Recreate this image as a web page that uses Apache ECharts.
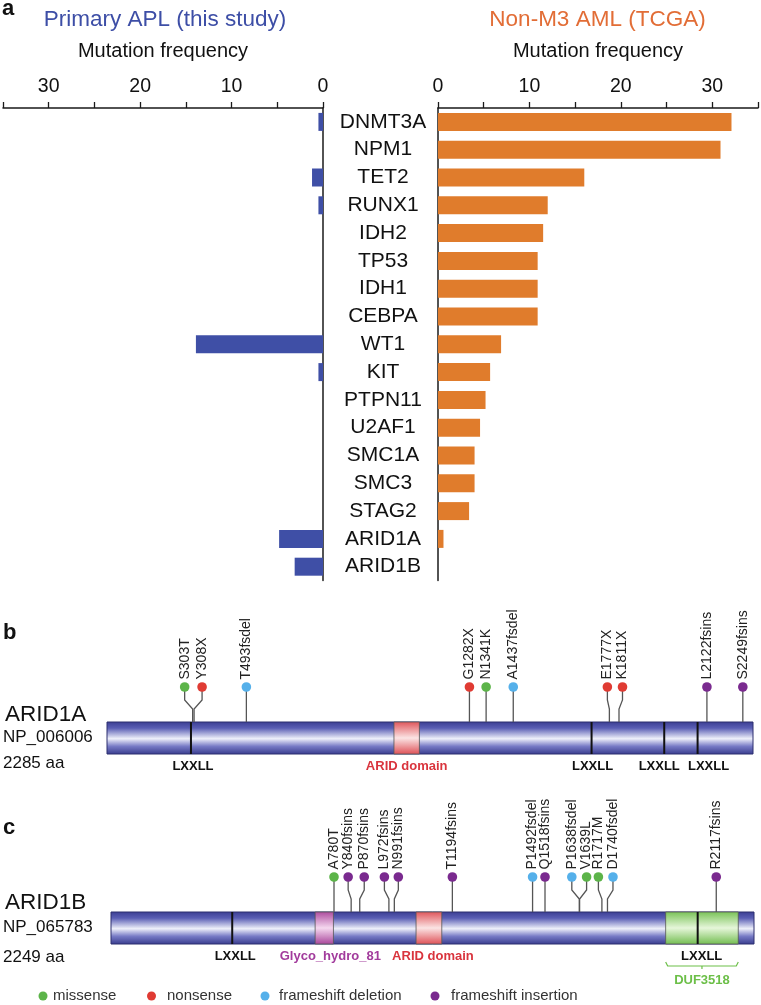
<!DOCTYPE html>
<html><head><meta charset="utf-8">
<script src="https://cdn.jsdelivr.net/npm/echarts@6/dist/echarts.min.js"></script>
<style>html,body{margin:0;padding:0;background:#fff}#c{width:761px;height:1005px}</style>
</head><body><div id="c"></div>
<script>
// ---------- Panel a data ----------
const genes = ['DNMT3A','NPM1','TET2','RUNX1','IDH2','TP53','IDH1','CEBPA','WT1','KIT','PTPN11','U2AF1','SMC1A','SMC3','STAG2','ARID1A','ARID1B'];
const aplFreq  = [0.5, 0, 1.2, 0.5, 0, 0, 0, 0, 13.9, 0.5, 0, 0, 0, 0, 0, 4.8, 3.1];
const tcgaFreq = [32.1, 30.9, 16.0, 12.0, 11.5, 10.9, 10.9, 10.9, 6.9, 5.7, 5.2, 4.6, 4.0, 4.0, 3.4, 0.6, 0];
const freqTicks = [0, 10, 20, 30];

// ---------- Panel b data (ARID1A) ----------
const arid1aLength = 2285;
const arid1aMotifs = [297, 1714, 1971, 2089];
const arid1aDomainName = ['ARID domain'];
const arid1aDomainStart = [1015];
const arid1aDomainEnd = [1105];
const arid1aMutPos = [303, 308, 493, 1282, 1341, 1437, 1777, 1811, 2122, 2249];
const arid1aMutLabel = ['S303T','Y308X','T493fsdel','G1282X','N1341K','A1437fsdel','E1777X','K1811X','L2122fsins','S2249fsins'];
const arid1aMutType = ['missense','nonsense','frameshift deletion','nonsense','missense','frameshift deletion','nonsense','nonsense','frameshift insertion','frameshift insertion'];

// ---------- Panel c data (ARID1B) ----------
const arid1bLength = 2249;
const arid1bMotifs = [424, 2052];
const arid1bDomainName = ['Glyco_hydro_81', 'ARID domain', 'DUF3518'];
const arid1bDomainStart = [714, 1067, 1940];
const arid1bDomainEnd = [778, 1157, 2194];
const arid1bMutPos = [780, 840, 870, 972, 991, 1194, 1492, 1518, 1638, 1639, 1717, 1740, 2117];
const arid1bMutLabel = ['A780T','Y840fsins','P870fsins','L972fsins','N991fsins','T1194fsins','P1492fsdel','Q1518fsins','P1638fsdel','V1639L','R1717M','D1740fsdel','R2117fsins'];
const arid1bMutType = ['missense','frameshift insertion','frameshift insertion','frameshift insertion','frameshift insertion','frameshift insertion','frameshift deletion','frameshift insertion','frameshift deletion','missense','missense','frameshift deletion','frameshift insertion'];

const mutationTypes = ['missense','nonsense','frameshift deletion','frameshift insertion'];

// ---------- layout / style (kept separate from data, in pixels) ----------
const arid1aDotShift = [-8, 8, 0, 0, 0, 0, -2, 3.5, 0, 0];
const arid1aStemShift = [0, 0, 0, 0, 0, 0, 0, 0, 0, 0];
const arid1aMotifLabelShift = [2, 1, -5, 11];
const arid1aDomainLabelShift = [0];
const arid1bDotShift = [0, -3, 4.5, -4.5, 4, 0, 0, 0, -7.5, 7, -3.5, 5.5, 0];
const arid1bStemShift = [0, 0, 0, 0, 0, 0, -5, 0, 0, 0, 0, -1, 0];
const arid1bMotifLabelShift = [3, 4];
const arid1bDomainLabelShift = [6, 4, 0];

const FONT = '"Liberation Sans", Arial, Helvetica, sans-serif';
const typeColor = {
  'missense': '#5cb449',
  'nonsense': '#e03b33',
  'frameshift deletion': '#55b0ea',
  'frameshift insertion': '#7a2a8f'
};
const domainStyle = {
  'ARID domain': {stops: ['#df545a', '#fbe4e4', '#de4f55'], text: '#d9343d'},
  'Glyco_hydro_81': {stops: ['#ad4a9e', '#f5d8ef', '#a8449a'], text: '#a23b9c'},
  'DUF3518': {stops: ['#78c256', '#e6f6da', '#72bd50'], text: '#6cbf48'}
};
function vgrad(c) {
  return {type: 'linear', x: 0, y: 0, x2: 0, y2: 1, colorStops: [
    {offset: 0, color: c[0]}, {offset: 0.5, color: c[1]}, {offset: 1, color: c[2]}]};
}
const backboneFill = {type: 'linear', x: 0, y: 0, x2: 0, y2: 1, colorStops: [
  {offset: 0, color: '#3a3d92'}, {offset: 0.2, color: '#5a5eb4'}, {offset: 0.52, color: '#eef0fa'},
  {offset: 0.75, color: '#777bc6'}, {offset: 1, color: '#373a8c'}]};

function proteinSeries(axisIdx, length, motifs, motifShift, dName, dStart, dEnd, dShift, mPos, mLabel, mType, shift, stemShift) {
  return [
    { type: 'custom', xAxisIndex: axisIdx, yAxisIndex: axisIdx, z: 2, silent: true,
      data: [[0, 0, length]],
      renderItem: (params, api) => {
        const a = api.coord([api.value(0), 1]);
        const b = api.coord([api.value(2), 0]);
        return {type: 'rect', shape: {x: a[0], y: a[1], width: b[0] - a[0], height: b[1] - a[1]},
          style: {fill: backboneFill, stroke: '#2c2e6e', lineWidth: 1}};
      }},
    { type: 'custom', xAxisIndex: axisIdx, yAxisIndex: axisIdx, z: 3, silent: true,
      data: dStart.map((s, i) => [s, 0, dEnd[i], i]),
      renderItem: (params, api) => {
        const i = api.value(3);
        const name = dName[i];
        const st = domainStyle[name];
        const a = api.coord([api.value(0), 1]);
        const b = api.coord([api.value(2), 0]);
        const mid = (a[0] + b[0]) / 2;
        const children = [{type: 'rect', shape: {x: a[0], y: a[1], width: b[0] - a[0], height: b[1] - a[1]},
          style: {fill: vgrad(st.stops), stroke: '#555', lineWidth: 0.8}}];
        if (name === 'DUF3518') {
          const yb = b[1] + 22;
          children.push({type: 'polyline', shape: {points: [[a[0], yb - 4], [a[0] + 2, yb], [b[0] - 2, yb], [b[0], yb - 4]]},
            style: {stroke: st.text, lineWidth: 1.2, fill: null}});
          children.push({type: 'line', shape: {x1: mid, y1: yb, x2: mid, y2: yb + 3}, style: {stroke: st.text, lineWidth: 1.2}});
          children.push({type: 'text', x: mid + dShift[i], y: b[1] + 36, style: {text: name, fill: st.text,
            font: 'bold 13px ' + FONT, align: 'center', verticalAlign: 'middle'}});
        } else {
          children.push({type: 'text', x: mid + dShift[i], y: b[1] + 12, style: {text: name, fill: st.text,
            font: 'bold 13px ' + FONT, align: 'center', verticalAlign: 'middle'}});
        }
        return {type: 'group', children};
      }},
    { type: 'custom', xAxisIndex: axisIdx, yAxisIndex: axisIdx, z: 4, silent: true,
      data: motifs.map((p, i) => [p, 0, i]),
      renderItem: (params, api) => {
        const i = api.value(2);
        const a = api.coord([api.value(0), 1]);
        const b = api.coord([api.value(0), 0]);
        return {type: 'group', children: [
          {type: 'line', shape: {x1: a[0], y1: a[1], x2: b[0], y2: b[1]}, style: {stroke: '#111', lineWidth: 2}},
          {type: 'text', x: b[0] + motifShift[i], y: b[1] + 12, style: {text: 'LXXLL', fill: '#111',
            font: 'bold 13px ' + FONT, align: 'center', verticalAlign: 'middle'}}]};
      }},
    { type: 'custom', xAxisIndex: axisIdx, yAxisIndex: axisIdx, z: 5, silent: true,
      data: mPos.map((p, i) => [p, 0, i]),
      renderItem: (params, api) => {
        const i = api.value(2);
        const top = api.coord([api.value(0), 1]);
        const bx = top[0] + stemShift[i], by = top[1];
        const dx = shift[i];
        const dy = by - 35;
        const pts = dx === 0 ? [[bx, by], [bx, dy]] :
          [[bx, by], [bx, by - 13], [bx + dx, by - 22], [bx + dx, dy]];
        return {type: 'group', children: [
          {type: 'polyline', shape: {points: pts}, style: {stroke: '#555', lineWidth: 1.3, fill: null}},
          {type: 'circle', shape: {cx: bx + dx, cy: dy, r: 4.8}, style: {fill: typeColor[mType[i]]}},
          {type: 'text', x: bx + dx, y: dy - 7.5, rotation: Math.PI / 2,
            style: {text: mLabel[i], fill: '#222', font: '14px ' + FONT, align: 'left', verticalAlign: 'middle'}}]};
      }}
  ];
}

const chart = echarts.init(document.getElementById('c'), null, {renderer: 'canvas'});

const freqAxisCommon = {
  type: 'value', min: 0, max: 35, interval: 5, position: 'top',
  axisLine: {show: true, lineStyle: {color: '#1a1a1a', width: 1.5}},
  axisTick: {show: true, length: 6, lineStyle: {color: '#1a1a1a', width: 1.3}},
  axisLabel: {formatter: v => (freqTicks.indexOf(v) >= 0 ? String(v) : ''), fontSize: 19.5, color: '#111', margin: 11, fontFamily: FONT},
  splitLine: {show: false},
  name: 'Mutation frequency', nameLocation: 'middle', nameGap: 47,
  nameTextStyle: {fontSize: 20, color: '#111', fontFamily: FONT}
};

const legendGraphics = [];
const legendDotX = [43, 151.5, 265, 435];
const legendTextX = [53, 167, 279, 451];
mutationTypes.forEach((t, i) => {
  legendGraphics.push({type: 'circle', shape: {cx: legendDotX[i], cy: 996, r: 4.5}, style: {fill: typeColor[t]}});
  legendGraphics.push({type: 'text', x: legendTextX[i], y: 996, style: {text: t, fill: '#333', font: '15px ' + FONT, verticalAlign: 'middle'}});
});

function txt(x, y, s, size, color, bold, align) {
  return {type: 'text', x, y, style: {text: s, fill: color || '#111', font: (bold ? 'bold ' : '') + size + 'px ' + FONT,
    align: align || 'left', verticalAlign: 'middle'}};
}

chart.setOption({
  animation: false,
  backgroundColor: '#fff',
  grid: [
    {left: 3, top: 108, width: 320, height: 472.6, outerBoundsMode: 'none'},
    {left: 438, top: 108, width: 320, height: 472.6, outerBoundsMode: 'none'},
    {left: 107, top: 722, width: 646, height: 32, outerBoundsMode: 'none'},
    {left: 111, top: 912, width: 643, height: 32, outerBoundsMode: 'none'}
  ],
  xAxis: [
    Object.assign({}, freqAxisCommon, {gridIndex: 0, inverse: true}),
    Object.assign({}, freqAxisCommon, {gridIndex: 1}),
    {gridIndex: 2, type: 'value', min: 0, max: arid1aLength, show: false},
    {gridIndex: 3, type: 'value', min: 0, max: arid1bLength, show: false}
  ],
  yAxis: [
    {gridIndex: 0, type: 'category', data: genes, inverse: true, position: 'right',
      axisLine: {show: true, lineStyle: {color: '#1a1a1a', width: 1.5}}, axisTick: {show: false}, axisLabel: {show: false}},
    {gridIndex: 1, type: 'category', data: genes, inverse: true, position: 'left',
      axisLine: {show: true, lineStyle: {color: '#1a1a1a', width: 1.5}}, axisTick: {show: false},
      axisLabel: {show: true, align: 'center', margin: 55, fontSize: 21, color: '#111', fontFamily: FONT}},
    {gridIndex: 2, type: 'value', min: 0, max: 1, show: false},
    {gridIndex: 3, type: 'value', min: 0, max: 1, show: false}
  ],
  series: [
    {type: 'bar', xAxisIndex: 0, yAxisIndex: 0, data: aplFreq, barWidth: 18, itemStyle: {color: '#3f4fa6'}, silent: true},
    {type: 'bar', xAxisIndex: 1, yAxisIndex: 1, data: tcgaFreq, barWidth: 18, itemStyle: {color: '#e07c2c'}, silent: true}
  ].concat(
    proteinSeries(2, arid1aLength, arid1aMotifs, arid1aMotifLabelShift, arid1aDomainName, arid1aDomainStart, arid1aDomainEnd,
      arid1aDomainLabelShift, arid1aMutPos, arid1aMutLabel, arid1aMutType, arid1aDotShift, arid1aStemShift),
    proteinSeries(3, arid1bLength, arid1bMotifs, arid1bMotifLabelShift, arid1bDomainName, arid1bDomainStart, arid1bDomainEnd,
      arid1bDomainLabelShift, arid1bMutPos, arid1bMutLabel, arid1bMutType, arid1bDotShift, arid1bStemShift)
  ),
  graphic: [
    txt(2, 9, 'a', 22, '#111', true),
    txt(165, 20, 'Primary APL (this study)', 22.5, '#3d4ea6', false, 'center'),
    txt(597.5, 20, 'Non-M3 AML (TCGA)', 22.5, '#e26d36', false, 'center'),
    txt(3, 633, 'b', 22, '#111', true),
    txt(5, 715, 'ARID1A', 22.5),
    txt(3, 737, 'NP_006006', 17),
    txt(3, 763, '2285 aa', 17),
    txt(3, 828, 'c', 22, '#111', true),
    txt(5, 903, 'ARID1B', 22.5),
    txt(3, 927, 'NP_065783', 17),
    txt(3, 957, '2249 aa', 17)
  ].concat(legendGraphics)
});
</script>
</body></html>
